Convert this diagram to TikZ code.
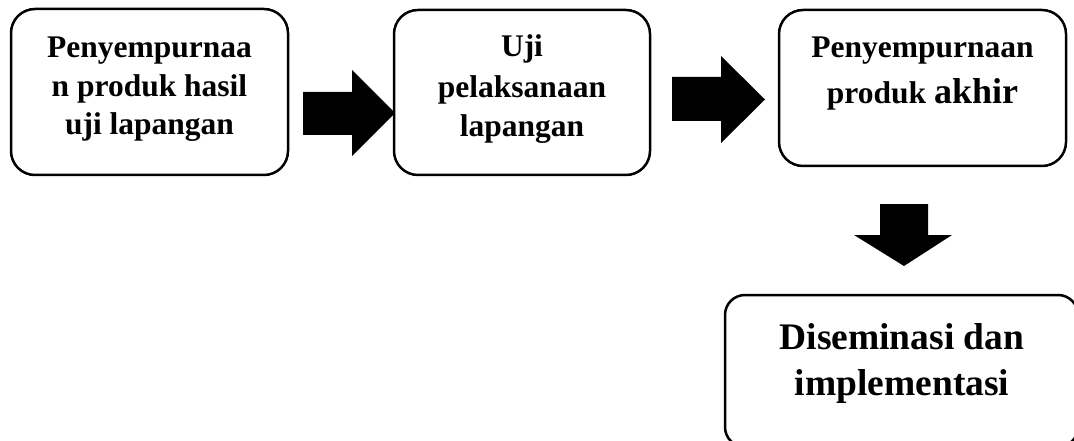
\documentclass[tikz,border=0pt]{standalone}
\usepackage{fontspec}
\setmainfont{Liberation Serif}
\begin{document}
\begin{tikzpicture}[x=1pt,y=-1pt,
  box/.style={draw, line width=2.5pt, rounded corners=24pt, inner sep=0pt, outer sep=0pt, anchor=north west},
  txt/.style={anchor=base, inner sep=0pt, font=\bfseries\fontsize{31.5}{35}\selectfont},
  bigtxt/.style={anchor=base, inner sep=0pt, font=\bfseries\fontsize{37.5}{42}\selectfont},
  blockarrow/.style={fill=black}]
\useasboundingbox (0,0) rectangle (1074,441);
\clip (0,0) rectangle (1074,441);
% boxes
\node[box, minimum width=277pt, minimum height=166pt] (b1) at (11,9) {};
\node[box, minimum width=256pt, minimum height=165pt] (b2) at (394,10) {};
\node[box, minimum width=287pt, minimum height=156pt] (b3) at (779,10) {};
\node[box, minimum width=353pt, minimum height=152pt, rounded corners=20pt] (b4) at (725,295) {};
% texts
\node[txt] (t1a) at (149.5,58) {Penyempurnaa};
\node[txt] (t1b) at (149.5,97) {n produk hasil};
\node[txt] (t1c) at (149.5,135) {uji lapangan};
\node[txt] (t2a) at (522,57) {Uji};
\node[txt] (t2b) at (522,98) {pelaksanaan};
\node[txt] (t2c) at (522,137) {lapangan};
\node[txt] (t3a) at (922.5,58) {Penyempurnaan};
\node[txt] (t3b) at (922.5,104) {produk {\fontsize{36}{40}\selectfont akhir}};
\node[bigtxt] (t4a) at (902,349) {Diseminasi dan};
\node[bigtxt] (t4b) at (902,395) {implementasi};
% block arrows
\fill[blockarrow] (303,92) -- (352,92) -- (352,70) -- (395,113) -- (352,156) -- (352,135) -- (303,135) -- cycle;
\fill[blockarrow] (672,77) -- (721,77) -- (721,56) -- (765,99.5) -- (721,143) -- (721,121) -- (672,121) -- cycle;
\fill[blockarrow] (880,204) -- (928,204) -- (928,235) -- (952,235) -- (904,266) -- (854,235) -- (880,235) -- cycle;
\end{tikzpicture}
\end{document}
